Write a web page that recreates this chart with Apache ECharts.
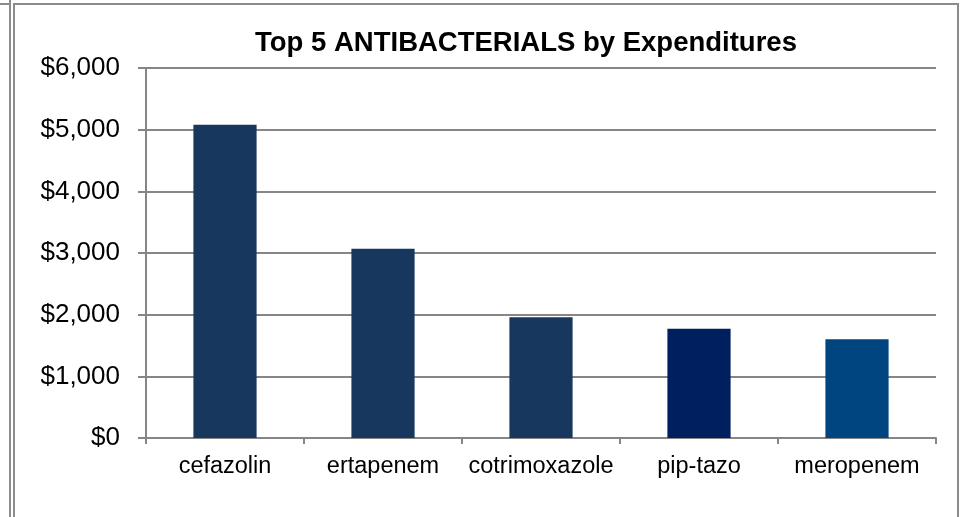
<!DOCTYPE html>
<html>
<head>
<meta charset="utf-8">
<script src="https://cdn.jsdelivr.net/npm/echarts@6/dist/echarts.min.js"></script>
<style>
  html, body { margin: 0; padding: 0; background: #fff; overflow: hidden; }
  #outer { position: absolute; left: 9px; top: 0; width: 0; height: 517px; border-left: 2px solid #8c8c8c; }
  #topedge { position: absolute; left: 0; top: 3px; width: 10px; border-top: 2px solid #8c8c8c; }
  #frame { position: absolute; left: 13px; top: 3px; width: 942px; height: 600px; border: 2px solid #8c8c8c; }
  #main { position: absolute; left: 0; top: 0; width: 966px; height: 517px; }
</style>
</head>
<body>
<div id="outer"></div>
<div id="topedge"></div>
<div id="frame"></div>
<div id="main"></div>
<script>
  const categories = ["cefazolin", "ertapenem", "cotrimoxazole", "pip-tazo", "meropenem"];
  const expenditures = [5080, 3070, 1960, 1770, 1600];
  const barColors = ["#17375e", "#17375e", "#17375e", "#001f5f", "#00457f"];

  const myChart = echarts.init(document.getElementById("main"));
  const option = {
    animation: false,
    title: {
      text: "Top 5 ANTIBACTERIALS by Expenditures",
      left: 521,
      top: 24,
      textAlign: "center",
      textStyle: {
        fontFamily: "Liberation Sans",
        fontWeight: "bold",
        fontSize: 27.5,
        color: "#000"
      }
    },
    grid: { left: 146, right: 30, top: 68, bottom: 79 },
    xAxis: {
      type: "category",
      data: categories,
      axisLine: { lineStyle: { color: "#868686", width: 2 } },
      axisTick: { show: true, interval: 0, length: 6, lineStyle: { color: "#868686", width: 2 } },
      axisLabel: {
        interval: 0,
        fontFamily: "Liberation Sans",
        fontSize: 23.5,
        color: "#000",
        margin: 17
      }
    },
    yAxis: {
      type: "value",
      min: 0,
      max: 6000,
      interval: 1000,
      axisLine: { show: true, lineStyle: { color: "#868686", width: 2 } },
      axisTick: { show: true, length: 8, lineStyle: { color: "#868686", width: 2 } },
      splitLine: { lineStyle: { color: "#868686", width: 2 } },
      axisLabel: {
        fontFamily: "Liberation Sans",
        fontSize: 26,
        color: "#000",
        margin: 26,
        formatter: v => "$" + v.toLocaleString("en-US")
      }
    },
    series: [
      {
        type: "bar",
        barWidth: "40%",
        data: expenditures.map((v, i) => ({ value: v, itemStyle: { color: barColors[i] } }))
      }
    ]
  };
  myChart.setOption(option);
</script>
</body>
</html>
